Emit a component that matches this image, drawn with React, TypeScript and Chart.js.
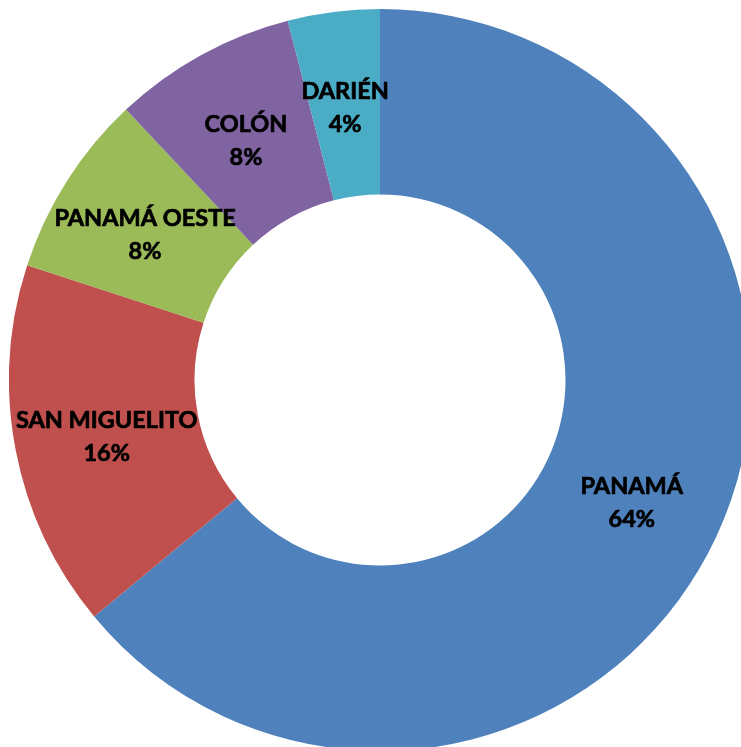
import React, { useEffect, useRef } from "react";
import { Chart, registerables } from "chart.js";

Chart.register(...registerables);

const categories = ["PANAMÁ", "SAN MIGUELITO", "PANAMÁ OESTE", "COLÓN", "DARIÉN"];
const values = [64, 16, 8, 8, 4];
const percentLabels = ["64%", "16%", "8%", "8%", "4%"];
const colors = ["#4F81BD", "#C0504D", "#9BBB59", "#8064A2", "#4BACC6"];

const labelPlugin = {
  id: "sliceLabels",
  afterDatasetsDraw(chart: any) {
    const ctx = chart.ctx;
    const meta = chart.getDatasetMeta(0);
    ctx.save();
    ctx.fillStyle = "#000000";
    ctx.strokeStyle = "#000000";
    ctx.lineWidth = 0.7;
    ctx.lineJoin = "round";
    ctx.font = "bold 23.5px Lato";
    ctx.textAlign = "center";
    ctx.textBaseline = "alphabetic";
    meta.data.forEach((arc: any, i: number) => {
      const p = arc.getCenterPoint();
      const y = p.y + 3;
      ctx.fillText(categories[i], p.x, y - 7.5);
      ctx.strokeText(categories[i], p.x, y - 7.5);
      ctx.fillText(percentLabels[i], p.x, y + 25.5);
      ctx.strokeText(percentLabels[i], p.x, y + 25.5);
    });
    ctx.restore();
  },
};

export default function App() {
  const ref = useRef<HTMLCanvasElement | null>(null);
  useEffect(() => {
    if (!ref.current) return;
    const chart = new Chart(ref.current, {
      type: "doughnut",
      data: {
        labels: categories,
        datasets: [
          {
            data: values,
            backgroundColor: colors,
            borderWidth: 0,
          },
        ],
      },
      options: {
        animation: false,
        responsive: false,
        maintainAspectRatio: false,
        cutout: "50%",
        layout: { padding: 0 },
        plugins: {
          legend: { display: false },
          tooltip: { enabled: false },
        },
      },
      plugins: [labelPlugin],
    });
    return () => chart.destroy();
  }, []);
  return (
    <div
      style={{
        position: "fixed",
        left: 0,
        top: 0,
        width: 741,
        height: 747,
        overflow: "hidden",
        background: "#ffffff",
      }}
    >
      <canvas
        ref={ref}
        width={742}
        height={742}
        style={{ position: "absolute", left: 9, top: 9, display: "block", width: 742, height: 742 }}
      />
    </div>
  );
}
